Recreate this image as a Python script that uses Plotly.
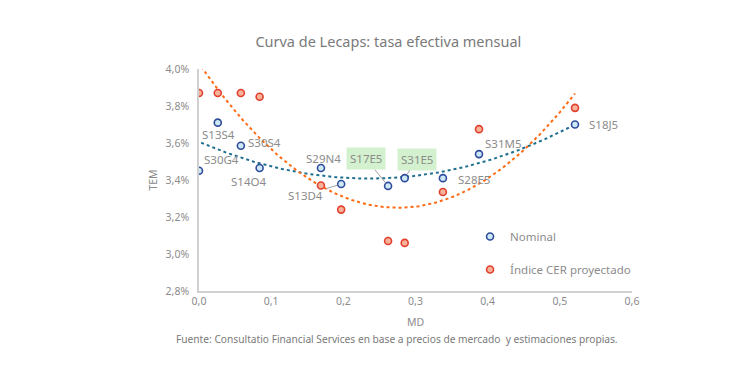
import numpy as np
import plotly.graph_objects as go

# Data
md = [0.0, 0.026, 0.058, 0.084, 0.169, 0.197, 0.262, 0.285, 0.338, 0.388, 0.521]
tem_nominal = [3.45, 3.71, 3.585, 3.465, 3.465, 3.378, 3.368, 3.41, 3.41, 3.54, 3.70]
tem_cer = [3.87, 3.87, 3.87, 3.85, 3.37, 3.24, 3.07, 3.06, 3.335, 3.675, 3.79]
labels = ["S30G4", "S13S4", "S30S4", "S14O4", "S29N4", "S13D4", "S17E5", "S31E5", "S28E5", "S31M5", "S18J5"]
x_ticks = [0.0, 0.1, 0.2, 0.3, 0.4, 0.5, 0.6]
y_ticks = [2.8, 3.0, 3.2, 3.4, 3.6, 3.8, 4.0]

GRAY = "#8c8c8c"
FONT = "Noto Sans"

fig = go.Figure()

# Quadratic trend lines
xs = np.linspace(0.003, 0.521, 200)
pn = np.polyfit(md, tem_nominal, 2)
pc = np.polyfit(md, tem_cer, 2)
fig.add_trace(go.Scatter(x=xs, y=np.polyval(pn, xs), mode="lines",
                         line=dict(color="#1f6f8f", width=2, dash="dot"),
                         showlegend=False, hoverinfo="skip"))
fig.add_trace(go.Scatter(x=xs, y=np.polyval(pc, xs), mode="lines",
                         line=dict(color="#ff6a13", width=2, dash="dot"),
                         showlegend=False, hoverinfo="skip"))

fig.add_trace(go.Scatter(x=md, y=tem_nominal, mode="markers", name="Nominal",
                         legendgroup="a",
                         marker=dict(size=7, color="#cde9f6",
                                     line=dict(color="#2f4b9c", width=1.6))))
fig.add_trace(go.Scatter(x=md, y=tem_cer, mode="markers", name="Índice CER proyectado",
                         legendgroup="b",
                         marker=dict(size=7, color="#f7b39a",
                                     line=dict(color="#e2402f", width=1.6))))

# Labels (offsets in pixels)
shifts = {
    "S30G4": (22, 11), "S13S4": (1, -12), "S30S4": (24, 3), "S14O4": (-11, -14),
    "S29N4": (3, 9), "S28E5": (31, -1), "S31M5": (24, 11), "S18J5": (29, 0),
}
for i, lab in enumerate(labels):
    if lab in shifts:
        dx, dy = shifts[lab]
        fig.add_annotation(x=md[i], y=tem_nominal[i], text=lab, showarrow=False,
                           xshift=dx, yshift=dy,
                           font=dict(family=FONT, size=11.5, color=GRAY))
arrows = {"S13D4": (-36, 11, None), "S17E5": (-22, -27, "#d4f1cf"), "S31E5": (12, -19, "#d4f1cf")}
for i, lab in enumerate(labels):
    if lab in arrows:
        ax, ay, bg = arrows[lab]
        fig.add_annotation(x=md[i], y=tem_nominal[i], text=lab, showarrow=True,
                           ax=ax, ay=ay, arrowhead=0, arrowwidth=1, arrowcolor="#a0a0a0",
                           standoff=4, bgcolor=bg if bg else "rgba(0,0,0,0)",
                           borderpad=3,
                           font=dict(family=FONT, size=11.5, color=GRAY))

fig.update_layout(
    width=730, height=367,
    margin=dict(l=191, r=106, t=61, b=84),
    paper_bgcolor="white", plot_bgcolor="white",
    separators=",.",
    font=dict(family=FONT, size=10, color=GRAY),
    title=dict(text="Curva de Lecaps: tasa efectiva mensual", x=0.521, xanchor="center",
               y=0.907, yanchor="middle", font=dict(family=FONT, size=14.5, color="#7a7a7a")),
    xaxis=dict(range=[0, 0.6], tickvals=x_ticks,
               ticktext=[f"{v:.1f}".replace(".", ",") for v in x_ticks],
               showgrid=False, zeroline=False, showline=True, linecolor="#d0d0d0",
               linewidth=1.5, ticks="",
               title=dict(text="MD", standoff=11, font=dict(size=10.5, color=GRAY)),
               tickfont=dict(size=10.5, color=GRAY)),
    yaxis=dict(range=[2.8, 4.0], tickvals=y_ticks,
               ticktext=[f"{v:.1f}%".replace(".", ",") for v in y_ticks],
               showgrid=False, zeroline=False, showline=True, linecolor="#d0d0d0",
               linewidth=1.5, ticks="", ticklabelstandoff=6,
               title=dict(text="TEM", standoff=6, font=dict(size=10.5, color=GRAY)),
               tickfont=dict(size=10.5, color=GRAY)),
    legend=dict(x=0.626, y=0.311, xanchor="left", yanchor="top", traceorder="grouped",
                tracegroupgap=14, font=dict(family=FONT, size=11.5, color=GRAY),
                itemwidth=30, bgcolor="rgba(0,0,0,0)"),
)

fig.add_annotation(xref="paper", yref="paper", x=-0.058, y=-0.216, xanchor="left",
                   yanchor="middle", showarrow=False,
                   text="Fuente: Consultatio Financial Services en base a precios de mercado  y estimaciones propias.",
                   font=dict(family=FONT, size=10.2, color="#7a7a7a"))

fig.write_html("out.html")
